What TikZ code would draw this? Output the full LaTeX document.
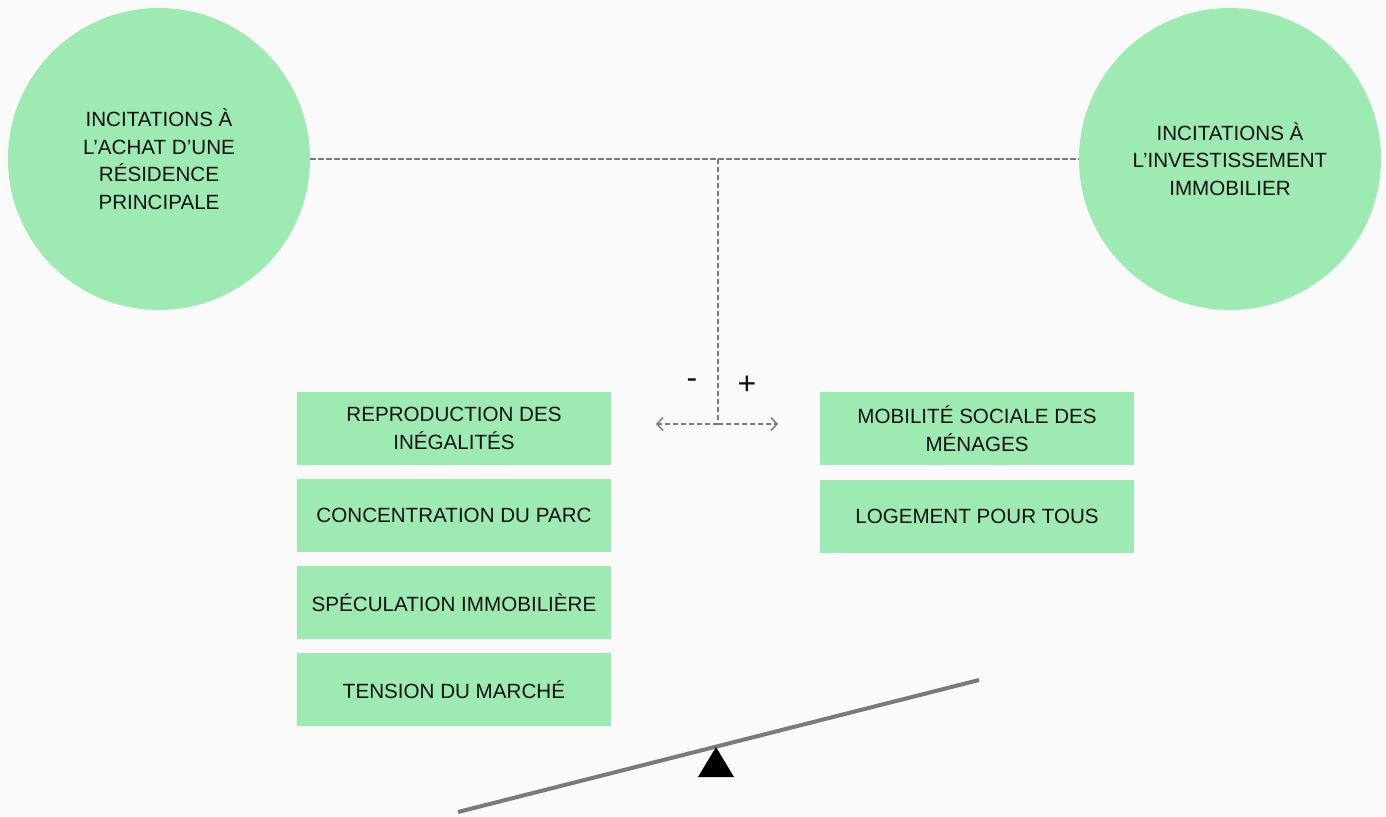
\documentclass[tikz,border=0pt]{standalone}
\usepackage{fontspec}
\setmainfont{Liberation Sans}
\usetikzlibrary{arrows.meta}
\definecolor{bg}{HTML}{FAFAFA}
\definecolor{mint}{HTML}{9DEAB3}
\definecolor{linegray}{HTML}{7A7A7A}
\definecolor{txt}{HTML}{111111}
\tikzset{
  bubble/.style={circle, fill=mint, minimum size=151pt, inner sep=0pt, align=center, text=txt,
    font=\fontsize{10.3}{13.75}\selectfont},
  tag/.style={rectangle, fill=mint, minimum width=157pt, minimum height=36.5pt, inner sep=0pt, align=center, text=txt,
    font=\fontsize{10.3}{13.75}\selectfont},
  link/.style={draw=linegray, line width=0.75pt, dash pattern=on 2.6pt off 1.4pt},
  tip/.style={-{Straight Barb[length=3pt,width=6.5pt,line width=0.75pt]}},
  sign/.style={text=txt, font=\fontsize{16}{17}\selectfont, inner sep=0pt}
}
\begin{document}
\begin{tikzpicture}[x=0.5pt,y=-0.5pt]
\fill[bg] (0,0) rectangle (1386,816);
\useasboundingbox (0,0) rectangle (1386,816);

\node[bubble] (achat) at (159,159) {INCITATIONS À\\L’ACHAT D’UNE\\RÉSIDENCE\\PRINCIPALE};
\node[bubble] (invest) at (1230,159) {INCITATIONS À\\L’INVESTISSEMENT\\IMMOBILIER};

\coordinate (junction) at (718,159);
\coordinate (fork) at (718,424);
\coordinate (leftend) at (656,424);
\coordinate (rightend) at (778,424);

\draw[link] (achat.east) -- (invest.west);
\draw[link] (junction) -- (fork);
\draw[link,tip] (fork) -- (leftend);
\draw[link,tip] (fork) -- (rightend);

\node[sign] (minus) at (692,384) {-};
\node[sign] (plus) at (747,385) {+};

\node[tag] (repro) at (454,428.5) {REPRODUCTION DES\\INÉGALITÉS};
\node[tag] (conc) at (454,515.5) {CONCENTRATION DU PARC};
\node[tag] (spec) at (454,602.5) {SPÉCULATION IMMOBILIÈRE};
\node[tag] (tension) at (454,689.5) {TENSION DU MARCHÉ};

\node[tag] (mobil) at (977,428.5) {MOBILITÉ SOCIALE DES\\MÉNAGES};
\node[tag] (logement) at (977,516.5) {LOGEMENT POUR TOUS};

\draw[linegray, line width=2pt] (458,812) -- (979,680);
\fill[black] (716,747) -- (698,777) -- (734,777) -- cycle;
\end{tikzpicture}
\end{document}
